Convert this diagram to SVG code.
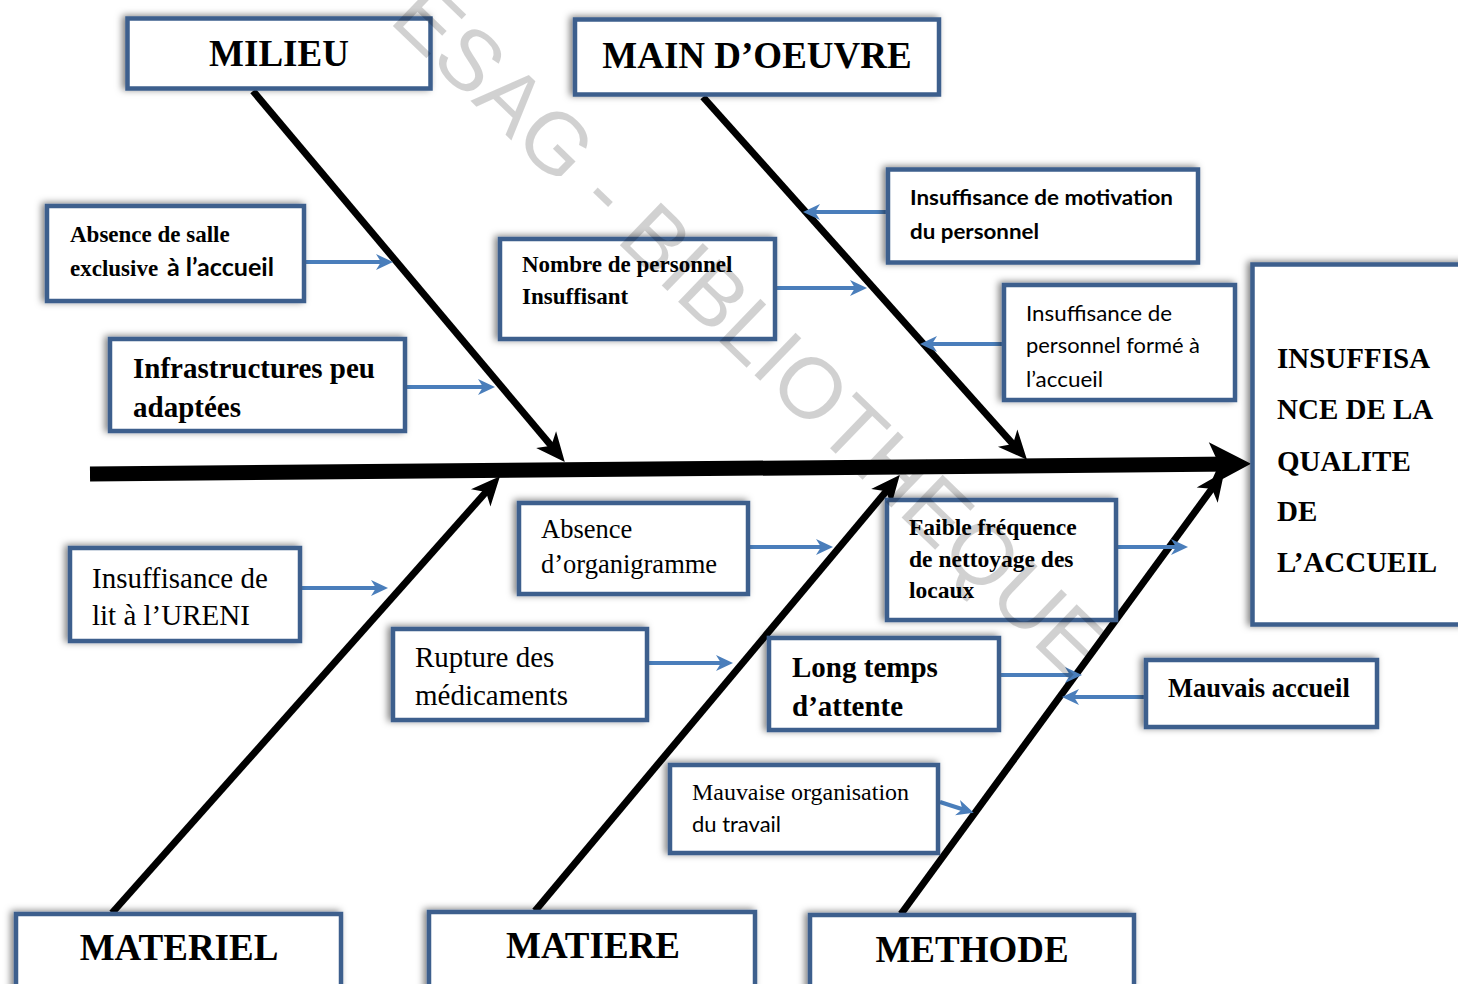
<svg xmlns="http://www.w3.org/2000/svg" width="1458" height="984" viewBox="0 0 1458 984">
<defs>
<style>
.box{fill:#fff;stroke:#3C5F8D;stroke-width:4.5;filter:url(#sh)}
.s{font-family:"Liberation Serif","Times New Roman",serif;fill:#000}
.sb{font-family:"Liberation Serif","Times New Roman",serif;font-weight:bold;fill:#000}
.c{font-family:Lato,"Open Sans",sans-serif;fill:#000}
.cb{font-family:Lato,"Open Sans",sans-serif;font-weight:bold;fill:#000}
.blue{stroke:#4A7EBB;stroke-width:4;fill:none;marker-end:url(#ba)}
.bone{stroke:#000;stroke-width:7;fill:none;marker-end:url(#ka)}
.wm{font-family:"Liberation Sans",Arial,sans-serif;font-size:86px;fill:#000;fill-opacity:0.18}
</style>
<filter id="sh" x="-20%" y="-30%" width="140%" height="160%">
<feDropShadow dx="-3" dy="-1" stdDeviation="3.5" flood-color="#000" flood-opacity="0.5"/>
</filter>
<marker id="ba" markerUnits="userSpaceOnUse" markerWidth="30" markerHeight="30" refX="11" refY="0" orient="auto" overflow="visible">
<path d="M0,-8 L17,0 L0,8 L5,0 z" fill="#4A7EBB"/>
</marker>
<marker id="ka" markerUnits="userSpaceOnUse" markerWidth="40" markerHeight="40" refX="20" refY="0" orient="auto" overflow="visible">
<path d="M0,-13 L29,0 L0,13 L8,0 z" fill="#000"/>
</marker>
<marker id="sa" markerUnits="userSpaceOnUse" markerWidth="60" markerHeight="60" refX="26" refY="0" orient="auto" overflow="visible">
<path d="M0,-22 L42,0 L0,22 L10,0 z" fill="#000"/>
</marker>
</defs>
<rect width="1458" height="984" fill="#fff"/>

<g id="connectors">
<line x1="90" y1="474" x2="1235" y2="464" stroke="#000" stroke-width="15" marker-end="url(#sa)"/>
<line class="bone" x1="253" y1="91" x2="559" y2="455"/>
<line class="bone" x1="703" y1="97" x2="1021" y2="453"/>
<line class="bone" x1="112" y1="913" x2="494" y2="483"/>
<line class="bone" x1="535" y1="911" x2="894" y2="482"/>
<line class="bone" x1="901" y1="914" x2="1219" y2="479"/>
<line class="blue" x1="306" y1="262" x2="387" y2="262"/>
<line class="blue" x1="407" y1="387" x2="489" y2="387"/>
<line class="blue" x1="777" y1="288" x2="861" y2="288"/>
<line class="blue" x1="886" y1="212" x2="809" y2="212"/>
<line class="blue" x1="1002" y1="344" x2="926" y2="344"/>
<line class="blue" x1="302" y1="588" x2="382" y2="588"/>
<line class="blue" x1="750" y1="547" x2="827" y2="547"/>
<line class="blue" x1="649" y1="663" x2="727" y2="663"/>
<line class="blue" x1="1103" y1="547" x2="1182" y2="547"/>
<line class="blue" x1="998" y1="675" x2="1076" y2="675"/>
<line class="blue" x1="1144" y1="697" x2="1068" y2="697"/>
<line class="blue" x1="940" y1="802" x2="968" y2="811"/>
</g>

<g id="milieu"><rect class="box" x="127.5" y="18.5" width="303" height="70"/><text class="sb" x="279" y="66" font-size="37" text-anchor="middle">MILIEU</text></g>
<g id="main-oeuvre"><rect class="box" x="575" y="19.5" width="364" height="75"/><text class="sb" x="757" y="68" font-size="37" text-anchor="middle">MAIN D’OEUVRE</text></g>
<g id="motivation"><rect class="box" x="888" y="169.5" width="310" height="93"/>
<text class="cb" x="910" y="205" font-size="21" textLength="263" lengthAdjust="spacingAndGlyphs">Insuffisance de motivation</text>
<text class="cb" x="910" y="239" font-size="21" textLength="129" lengthAdjust="spacingAndGlyphs">du personnel</text></g>
<g id="forme"><rect class="box" x="1004" y="285" width="231" height="115"/>
<text class="c" x="1026" y="321" font-size="22" textLength="146" lengthAdjust="spacingAndGlyphs">Insuffisance de</text>
<text class="c" x="1026" y="353" font-size="22" textLength="174" lengthAdjust="spacingAndGlyphs">personnel formé à</text>
<text class="c" x="1026" y="387" font-size="22" textLength="77" lengthAdjust="spacingAndGlyphs">l’accueil</text></g>
<g id="effet"><rect class="box" x="1252.5" y="264.5" width="230" height="360"/>
<text class="sb" x="1277" font-size="29"><tspan x="1277" y="368">INSUFFISA</tspan><tspan x="1277" y="419">NCE DE LA</tspan><tspan x="1277" y="471">QUALITE</tspan><tspan x="1277" y="521">DE</tspan><tspan x="1277" y="572">L’ACCUEIL</tspan></text></g>
<g id="salle"><rect class="box" x="47" y="206" width="257" height="95"/>
<text class="sb" x="70" y="242" font-size="23">Absence de salle</text>
<text class="sb" x="70" y="276" font-size="23">exclusive</text>
<text class="cb" x="167" y="276" font-size="24" textLength="107" lengthAdjust="spacingAndGlyphs">à l’accueil</text></g>
<g id="nombre"><rect class="box" x="500" y="239" width="275" height="100"/>
<text class="sb" x="522" font-size="23"><tspan x="522" y="272">Nombre de personnel</tspan><tspan x="522" y="304">Insuffisant</tspan></text></g>
<g id="infra"><rect class="box" x="110" y="339" width="295" height="92"/>
<text class="sb" x="133" font-size="29"><tspan x="133" y="378">Infrastructures peu</tspan><tspan x="133" y="417">adaptées</tspan></text></g>
<g id="lit"><rect class="box" x="70" y="548" width="230" height="93"/>
<text class="s" x="92" font-size="29"><tspan x="92" y="588">Insuffisance de</tspan><tspan x="92" y="625">lit à l’URENI</tspan></text></g>
<g id="organigramme"><rect class="box" x="519" y="503" width="229" height="91"/>
<text class="s" x="541" font-size="26.5"><tspan x="541" y="538">Absence</tspan><tspan x="541" y="573">d’organigramme</tspan></text></g>
<g id="rupture"><rect class="box" x="393" y="629" width="254" height="91"/>
<text class="s" x="415" font-size="29"><tspan x="415" y="667">Rupture des</tspan><tspan x="415" y="705">médicaments</tspan></text></g>
<g id="nettoyage"><rect class="box" x="887" y="500" width="229" height="120"/>
<text class="sb" x="909" font-size="23.5"><tspan x="909" y="535">Faible fréquence</tspan><tspan x="909" y="567">de nettoyage des</tspan><tspan x="909" y="598">locaux</tspan></text></g>
<g id="attente"><rect class="box" x="769" y="638" width="230" height="92"/>
<text class="sb" x="792" font-size="29"><tspan x="792" y="677">Long temps</tspan><tspan x="792" y="716">d’attente</tspan></text></g>
<g id="mauvais-accueil"><rect class="box" x="1146" y="660" width="231" height="67"/>
<text class="sb" x="1168" y="697" font-size="26.5">Mauvais accueil</text></g>
<g id="organisation"><rect class="box" x="670" y="765" width="268" height="88"/>
<text class="s" x="692" y="800" font-size="23.5" textLength="217" lengthAdjust="spacingAndGlyphs">Mauvaise organisation</text>
<text class="c" x="692" y="832" font-size="22" textLength="89" lengthAdjust="spacingAndGlyphs">du travail</text></g>
<g id="materiel"><rect class="box" x="16" y="914" width="325" height="100"/><text class="sb" x="179" y="960" font-size="37" text-anchor="middle">MATERIEL</text></g>
<g id="matiere"><rect class="box" x="429" y="912" width="326" height="100"/><text class="sb" x="593" y="958" font-size="37" text-anchor="middle">MATIERE</text></g>
<g id="methode"><rect class="box" x="810" y="915" width="324" height="100"/><text class="sb" x="972" y="962" font-size="37" text-anchor="middle">METHODE</text></g>

<g id="watermark"><text class="wm" transform="translate(603,197) rotate(44)" x="-277" y="23">ESAG - BIBLIOTHEQUE</text></g>
</svg>
